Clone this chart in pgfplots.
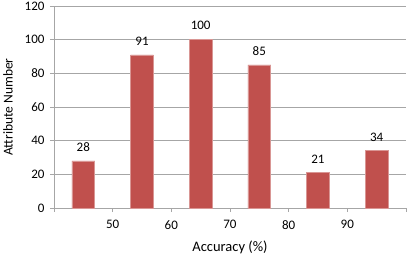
\documentclass[border=0pt]{standalone}
\usepackage{pgfplots}
\pgfplotsset{compat=1.18}
\usepackage{fontspec}
\setmainfont{Carlito}
\definecolor{barred}{HTML}{C0504D}
\definecolor{baredge}{HTML}{D99694}
\definecolor{gridgray}{HTML}{A6A6A6}
\begin{document}
\begin{tikzpicture}
\useasboundingbox (-54bp,-48bp) rectangle (355bp,208bp);
\begin{axis}[
  at={(0,0)}, anchor=origin,
  scale only axis,
  width=352bp, height=202bp,
  xmin=40, xmax=100, ymin=0, ymax=120,
  axis x line*=bottom, axis y line*=left,
  axis line style={draw=gridgray, line width=0.8pt, -},
  xtick={40,50,...,100},
  xticklabels={,50,60,70,80,90,},
  ytick={0,20,...,120},
  tick align=outside,
  major tick length=4bp,
  tick style={draw=gridgray, line width=0.8pt},
  ymajorgrids,
  grid style={draw=gridgray, line width=0.8pt},
  ticklabel style={font=\fontsize{13bp}{15bp}\selectfont, text=black},
  xticklabel style={yshift=-5bp},
  yticklabel style={xshift=-2bp},
  /pgf/number format/assume math mode=true,
  xlabel={Accuracy (\%)},
  ylabel={Attribute Number},
  xlabel style={font=\fontsize{14.5bp}{16bp}\selectfont, at={(axis description cs:0.5,-0.195)}, anchor=center},
  ylabel style={font=\fontsize{13.5bp}{16bp}\selectfont, at={(axis description cs:-0.1307,0.5)}, anchor=center},
  ybar, bar width=3.9,
  nodes near coords,
  nodes near coords style={font=\fontsize{13bp}{15bp}\selectfont, text=black, yshift=6bp},
  clip=false,
]
\addplot[fill=barred, draw=baredge, line width=0.6pt] coordinates {
  (45,28) (55,91) (65,100) (75,85) (85,21) (95,34)
};
\end{axis}
\end{tikzpicture}
\end{document}
